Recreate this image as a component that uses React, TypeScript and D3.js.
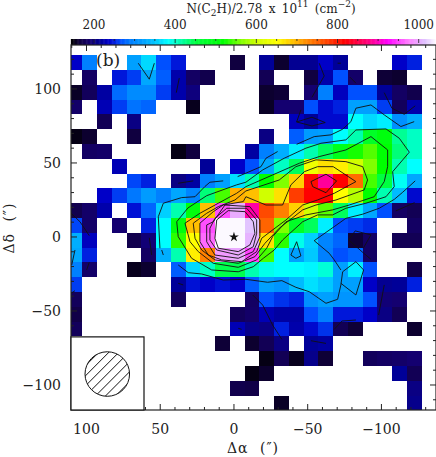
import { useEffect, useRef } from 'react';
import * as d3 from 'd3';

const _ = null;

// column density per map cell, top row first
const r00 = [235, 290, _, _, 320, 360, 265, 246, _, _, _, 165, _, 215, 159, 211, 211, 235, 215, _, _, _, 235, 250];
const r01 = [_, 183, _, 246, 259, 325, 272, 223, 183, 172, _, _, _, 176, _, _, 165, 223, 265, 186, _, 162, 159, _];
const r02 = [156, 179, 219, 279, 300, 300, 259, 223, 198, _, _, _, _, 159, 162, _, 190, 290, 231, 265, 265, 215, 183, 172];
const r03 = [186, _, 227, 259, 283, 276, _, _, 153, _, _, _, _, 156, 190, 190, 265, 239, 250, 320, 320, 259, 179, 223];
const r04 = [_, _, 176, _, 202, _, _, _, _, _, _, _, _, _, _, 231, 215, 239, 239, 382, 360, 373, 305, 330];
const r05 = [150, 159, _, _, 165, _, _, _, _, _, _, _, _, 202, _, 272, 315, 320, 382, 410, 477, 504, 420, 403];
const r06 = [_, 183, 186, _, _, _, _, 150, 165, _, _, _, 219, 290, 330, 373, 410, 440, 490, 525, 545, 515, 430, 403];
const r07 = [_, _, _, 227, _, _, _, _, _, 215, _, 235, 265, 325, 403, 440, 633, 670, 660, 600, 560, 518, 410, 382];
const r08 = [_, _, _, _, 262, 250, _, 202, 219, 290, 320, 364, 410, 518, 560, 680, 809, 885, 816, 744, 541, 450, 386, 325];
const r09 = [_, _, 235, 259, 286, 315, 290, 325, 295, 430, 541, 700, 690, 600, 670, 777, 816, 816, 650, 587, 518, 410, 340, 239];
const r10 = [172, 186, 223, _, 243, 276, 355, 410, 504, 690, 955, 1000, 890, 768, 730, 680, 600, 546, 440, 373, 325, 265, 183, 176];
const r11 = [262, 186, _, 190, _, 250, 382, 504, 690, 955, 1040, 1040, 1015, 750, 560, 477, 440, 373, 265, 259, 253, _, _, 183];
const r12 = [330, 231, _, _, 172, 194, 382, 532, 650, 965, 1040, 1040, 1005, 670, 532, 389, 355, 295, 276, 162, 183, _, 176, 176];
const r13 = [325, 250, _, _, _, 183, 330, 410, 660, 730, 990, 1000, 950, 541, 382, 320, 350, 290, 265, 276, 183, _, _, _];
const r14 = [290, 186, _, _, 153, 159, _, 272, 360, 403, 445, 445, 410, 389, 382, 382, 377, 396, 320, 373, 265, _, _, 169];
const r15 = [259, _, _, _, _, _, _, 215, 243, 235, 243, 235, 272, 320, 310, 340, 364, 350, 320, 320, 235, 211, 215, 250];
const r16 = [179, _, _, _, _, _, _, 179, _, _, _, _, 183, 265, 256, 250, 305, 320, 310, 310, 265, 194, 190, _];
const r17 = [169, _, _, _, _, _, _, _, _, _, _, 179, 186, 227, 219, 219, 265, 290, 246, 246, 235, 202, 176, _];
const r18 = [179, _, _, _, _, _, _, _, _, _, _, 227, 207, 202, 250, 223, 239, 256, 176, 162, _, _, _, 159];
const r19 = [_, _, _, _, _, _, _, _, _, _, 162, _, 159, 176, 202, _, 215, 219, _, _, _, _, _, _];
const r20 = [_, _, _, _, _, _, _, _, _, _, _, _, _, 150, 176, 153, 207, 162, _, _, 179, 183, 186, 190];
const r21 = [_, _, _, _, _, _, _, _, _, _, _, _, 150, 159, _, _, _, _, _, _, _, _, 215, 176];
const r22 = [_, _, _, _, _, _, _, _, _, _, _, 172, 169, _, _, _, _, _, _, _, _, _, _, 202];
const r23 = [_, _, _, _, _, _, _, _, _, _, _, _, _, _, 156, _, _, _, _, _, _, _, _, 207];
const rows = [r00, r01, r02, r03, r04, r05, r06, r07, r08, r09, r10, r11, r12, r13, r14, r15, r16, r17, r18, r19, r20, r21, r22, r23];

// offsets of the first cell centre, arcsec
const firstAlpha = 107.75;
const firstDelta = 117.8;
const cellStep = 10;

// colour table as shown on the bar
const colorValues = [143, 165, 190, 215, 235, 250, 265, 290, 320, 355, 382, 410, 450, 518, 560, 600, 650, 690, 730, 775, 816, 875, 924, 974, 1013, 1043];
const colorStops = ['#000000', '#100040', '#140070', '#000098', '#0000c8', '#0020e0', '#0050ff', '#0080ff', '#00a0ff', '#00d0ff', '#00ffff', '#00ffb0', '#00ff40', '#00ff00', '#80ff00', '#d0ff00', '#ffff00', '#ffc000', '#ff8000', '#ff4000', '#ff0000', '#ff0080', '#ff00ff', '#ff80ff', '#e0c0ff', '#ffffff'];

const barTicks = [200, 400, 600, 800, 1000];
const xTicks = [100, 50, 0, -50, -100];
const yTicks = [100, 50, 0, -50, -100];

// contours, [delta alpha, delta delta] in arcsec
const ringA = [[38.8, 10.3], [37.8, 0.2], [28.7, -14.4], [15.1, -22.3], [-2.9, -23.5], [-13.1, -20.1], [-19.9, -14.4], [-27.3, -8.8], [-33, -2], [-46.6, 10.3], [-56.7, 14.9], [-66.9, 14.9], [-75.9, 19.4], [-89.5, 22.8], [-103.1, 27.2], [-108.7, 34], [-107.6, 44.1], [-118.9, 57.3], [-112.1, 66.7], [-103.1, 73], [-82.7, 72.3], [-75.9, 65.6], [-59, 63.3], [-48.8, 60], [-34.1, 53.2], [-19.5, 45.3], [-8.1, 37], [-1.8, 35.2], [18.5, 27.9], [31.2, 19.6], [38.8, 10.3]];
const ringB = [[33.2, 9.3], [29.8, -3.2], [24.2, -9.9], [14, -17.8], [-2.9, -20.5], [-15.4, -15.5], [-22.2, -7.6], [-26.2, 0.2], [-35.3, 10.3], [-48.8, 14.9], [-66.9, 18.3], [-78.2, 21.6], [-95.1, 27.2], [-101.9, 37.4], [-104.2, 47.5], [-104.2, 58.8], [-92.9, 67.8], [-75.9, 58.8], [-57.8, 54.3], [-44.3, 49.8], [-26.2, 41.9], [-8.1, 34], [-1.8, 29.5], [10.6, 22.8], [23.1, 16], [33.2, 9.3]];
const ringC = [[27.6, 9.3], [26.4, -0.9], [21.9, -8.8], [12.9, -15.5], [-2.9, -17.8], [-14.2, -13.3], [-21, -4.3], [-30.7, 5.9], [-46.6, 18.3], [-55.6, 21.6], [-69.2, 25], [-88.3, 31.8], [-90.6, 38.5], [-87.3, 47.5], [-75.9, 50.9], [-55.6, 52.1], [-42, 47.5], [-30.7, 38.5], [-8.1, 31.1], [-0.7, 25], [10.6, 20.5], [18.5, 16], [27.6, 9.3]];
const ringD = [[23.1, 9.3], [23.1, -3.2], [17.4, -12.2], [8.3, -15.5], [-5.2, -16.7], [-15.4, -9.9], [-18.8, -0.9], [-24.4, 3.4], [-35.3, 11.5], [-46.6, 21.6], [-56.7, 25], [-68, 29.5], [-82.7, 37.4], [-67.3, 47.5], [-56.7, 47.5], [-47.7, 44.1], [-38.6, 35.2], [-33, 21.6], [-21.7, 21.6], [-8.1, 27.2], [-6.3, 23.9], [7.3, 21.6], [14, 17.1], [23.1, 9.3]];
const ringE = [[14, 10.3], [18.5, 8.1], [18.5, -3.2], [12.9, -12.2], [-2.9, -14.4], [-13.1, -9.9], [-17.6, 0.2], [-17.6, 11.5], [-10.8, 20.5], [6.1, 21.6], [14, 10.3]];
const ringF = [[12.9, 12.6], [16.3, 5.9], [16.3, -2], [11.7, -8.8], [-2.9, -12.2], [-13.1, -6.6], [-15.4, 2.5], [-15.4, 11.5], [-8.6, 19.4], [4.9, 19.4], [12.9, 12.6]];
const ringG = [[11.7, 11.5], [12.9, -0.9], [10.6, -7.6], [-2.9, -9.9], [-10.8, -5.4], [-14.2, 2.5], [-13.1, 10.3], [-7.5, 17.1], [3.9, 17.8], [11.7, 11.5]];
const peakLoop = [[-52.2, 37.4], [-62.4, 42.4], [-69.6, 37.9], [-62.4, 29.9], [-53.4, 34], [-52.2, 37.4]];
const outerLeft = [[50.2, -7.6], [51.3, 13.7], [47.9, 22.8], [35.5, 26.6], [26.4, 27.2], [19.7, 34.1], [16.3, 37], [7.3, 37.9]];
const outerUpper1 = [[-2.5, 40.8], [-8.1, 43.1], [-18.3, 47.5], [-21.7, 53.2], [-29.6, 57.7]];
const outerUpper2 = [[-42.5, 62.6], [-54.4, 67.8], [-65.8, 69], [-73.7, 72.8], [-79.3, 77.9], [-82.7, 87], [-92.9, 89.2], [-101.9, 82.5], [-113.2, 74.6], [-122.2, 77.9]];
const outerLower = [[37.8, -18.9], [31, -24.1], [21.9, -25], [7.3, -29.1], [-8.1, -28.6], [-22.8, -30.6], [-32.5, -29.5], [-42, -34], [-51.1, -37], [-62.4, -44.8], [-70.3, -42.1], [-72.5, -32.4], [-73.7, -23.5], [-82.7, -16.7], [-87.9, -22.3], [-82.7, -39.2], [-72.5, -31.3]];
const lobeUnder = [[-72.5, -22.3], [-68, -15.5], [-64.6, -11], [-54.4, -2.5], [-68, 7], [-75.9, 12.6], [-87.3, 15.4], [-98.5, 19.4], [-108.7, 25.4], [-114.4, 30.2], [-122.9, 37.9]];
const darkLoop = [[-87.7, -7.6], [-92.9, 1.4], [-82.2, 4.1], [-77.8, -2], [-88, -11], [-92.9, -15.1]];
const smallLoop = [[-42.5, -3.2], [-38.6, -12.2], [-42, -14.4], [-45.4, -12.8], [-42.5, -3.2]];
const topLoop = [[-45.4, 85.9], [-42.5, 77.7], [-52.9, 75], [-61.9, 77.3], [-52.9, 80.9], [-42.5, 77.7]];
const stubs = [
  [[64.9, 117.4], [57.4, 106.6], [54, 117.4]],
  [[37.1, 107.3], [39.1, 97.5]],
  [[-70.3, 117.4], [-72.5, 117.4]],
  [[-57.8, 117.4], [-61.2, 108.8], [-52.9, 94.4]],
  [[-78.6, 108], [-82.7, 103.9]],
  [[-101.9, 97.5], [-107.1, 87], [-115.5, 82.9], [-122.9, 88.6]],
  [[37.8, 36.3], [27.6, 37.9]],
  [[110.5, 16], [104.4, 10.3], [98.1, 0.9]],
  [[107.8, -8.8], [110, -18.9]],
  [[98.1, -17.1], [99.9, -22.3]],
  [[107.8, -36.3], [110.5, -38]],
  [[37.8, -31.3], [34.4, -32.4]],
  [[-2.9, -61.7], [-5.2, -62.4]],
  [[57.4, -0.5], [55.8, -12.2]],
  [[49, -8.8], [47.9, -12.2]],
  [[-12.7, -39.2], [-19.5, -46], [-26.2, -59.5], [-32.5, -69.2]],
  [[-52.2, -70.1], [-62.4, -71.9]],
  [[-68, -62.4], [-73.2, -56.8], [-82.7, -56.1]],
  [[-101.9, -32.4], [-98.1, -52.7]],
  [[-109.7, 17.6], [-122.5, 23.2]],
];
const contours = [ringA, ringB, ringC, ringD, ringE, ringF, ringG, peakLoop, outerLeft, outerUpper1, outerUpper2, outerLower, lobeUnder, darkLoop, smallLoop, topLoop, ...stubs];

// beam, arcsec
const beamAlpha = 85.9;
const beamDelta = -92.6;
const beamRadius = 15.1;
const beamBoxAlpha = 61;
const beamBoxDelta = -67.5;

const serif = "'DejaVu Serif', serif";

export default function App() {
  const ref = useRef(null);

  useEffect(() => {
    const x = d3.scaleLinear().domain([110.5, -137]).range([71, 436]);
    const y = d3.scaleLinear().domain([-116.9, 129.7]).range([410, 45]);
    const barX = d3.scaleLinear().domain([200, 1000]).range([94, 418.7]);
    const color = d3.scaleLinear().domain(colorValues).range(colorStops).clamp(true);

    const svg = d3.select(ref.current);
    svg.selectAll('*').remove();

    svg.append('clipPath').attr('id', 'frame').append('rect')
      .attr('x', 71).attr('y', 45).attr('width', 365).attr('height', 365);

    const map = svg.append('g').attr('clip-path', 'url(#frame)');
    const cells = rows.flatMap((row, r) => row.map((v, c) => ({ v, c, r }))).filter(d => d.v !== null);
    map.selectAll('rect')
      .data(cells)
      .join('rect')
      .attr('x', d => x(firstAlpha - d.c * cellStep + cellStep / 2))
      .attr('y', d => y(firstDelta - d.r * cellStep + cellStep / 2))
      .attr('width', d => x(firstAlpha - d.c * cellStep - cellStep / 2) - x(firstAlpha - d.c * cellStep + cellStep / 2))
      .attr('height', d => y(firstDelta - d.r * cellStep - cellStep / 2) - y(firstDelta - d.r * cellStep + cellStep / 2))
      .attr('shape-rendering', 'crispEdges')
      .attr('fill', d => color(d.v));

    const line = d3.line().x(d => x(d[0])).y(d => y(d[1]));
    map.selectAll('path.contour')
      .data(contours)
      .join('path')
      .attr('class', 'contour')
      .attr('d', line)
      .attr('fill', 'none')
      .attr('stroke', '#111')
      .attr('stroke-width', 0.9);

    // colour bar
    const bar = svg.append('g');
    bar.selectAll('rect')
      .data(d3.range(143, 1043, 2))
      .join('rect')
      .attr('x', d => barX(d))
      .attr('y', 39)
      .attr('width', barX(2) - barX(0) + 0.5)
      .attr('height', 6)
      .attr('fill', d => color(d));
    bar.selectAll('line')
      .data(d3.range(150, 1050, 50))
      .join('line')
      .attr('x1', d => barX(d))
      .attr('x2', d => barX(d))
      .attr('y1', 39)
      .attr('y2', d => (d % 200 === 0 ? 43 : 41))
      .attr('stroke', '#222')
      .attr('stroke-width', 0.8);
    bar.selectAll('text')
      .data(barTicks)
      .join('text')
      .attr('x', d => barX(d))
      .attr('y', 29)
      .attr('text-anchor', 'middle')
      .attr('font-family', serif)
      .attr('font-size', 12)
      .attr('fill', '#222')
      .text(d => d);

    const title = svg.append('text')
      .attr('x', 271).attr('y', 13)
      .attr('text-anchor', 'middle')
      .attr('font-family', serif)
      .attr('font-size', 12)
      .attr('word-spacing', 2.5)
      .attr('fill', '#222');
    title.append('tspan').text('N(C');
    title.append('tspan').attr('dy', 3).attr('font-size', 9).text('2');
    title.append('tspan').attr('dy', -3).text('H)/2.78 x 10');
    title.append('tspan').attr('dy', -6).attr('font-size', 9).text('11');
    title.append('tspan').attr('dy', 6).text(' (cm');
    title.append('tspan').attr('dy', -6).attr('font-size', 9).text('\u22122');
    title.append('tspan').attr('dy', 6).text(')');

    // frame and ticks
    const axes = svg.append('g').attr('stroke', '#222').attr('stroke-width', 1).attr('fill', 'none');
    axes.append('rect').attr('x', 71).attr('y', 45).attr('width', 365).attr('height', 365).attr('stroke-width', 1.2);
    d3.range(-130, 111, 10).forEach(t => {
      const len = t % 50 === 0 ? 6 : 3;
      axes.append('line').attr('x1', x(t)).attr('x2', x(t)).attr('y1', 410).attr('y2', 410 - len);
      axes.append('line').attr('x1', x(t)).attr('x2', x(t)).attr('y1', 45).attr('y2', 45 + len);
    });
    d3.range(-110, 130, 10).forEach(t => {
      const len = t % 50 === 0 ? 6 : 3;
      axes.append('line').attr('x1', 71).attr('x2', 71 + len).attr('y1', y(t)).attr('y2', y(t));
      axes.append('line').attr('x1', 436).attr('x2', 436 - len).attr('y1', y(t)).attr('y2', y(t));
    });

    const labels = svg.append('g').attr('font-family', serif).attr('font-size', 14).attr('fill', '#222');
    labels.selectAll('text.xt')
      .data(xTicks)
      .join('text')
      .attr('class', 'xt')
      .attr('x', d => x(d))
      .attr('y', 434)
      .attr('text-anchor', 'middle')
      .text(d => String(d).replace('-', '\u2212'));
    labels.selectAll('text.yt')
      .data(yTicks)
      .join('text')
      .attr('class', 'yt')
      .attr('x', 61)
      .attr('y', d => y(d) + 5)
      .attr('text-anchor', 'end')
      .text(d => String(d).replace('-', '\u2212'));
    labels.append('text')
      .attr('x', 253).attr('y', 453).attr('text-anchor', 'middle')
      .attr('letter-spacing', 1).attr('word-spacing', 6)
      .text('\u0394\u03b1 (\u2033)');
    labels.append('text')
      .attr('transform', 'translate(14,228) rotate(-90)')
      .attr('text-anchor', 'middle')
      .attr('letter-spacing', 1).attr('word-spacing', 6)
      .text('\u0394\u03b4 (\u2033)');
    labels.append('text').attr('x', 96).attr('y', 66).attr('font-size', 17).text('(b)');

    // source position
    svg.append('path')
      .attr('d', d3.symbol(d3.symbolStar, 30)())
      .attr('transform', `translate(${x(0)},${y(0)})`)
      .attr('fill', '#111');

    // beam inset
    const boxX = x(beamBoxAlpha);
    const boxY = y(beamBoxDelta);
    svg.append('rect')
      .attr('x', 71).attr('y', boxY)
      .attr('width', boxX - 71).attr('height', 410 - boxY)
      .attr('fill', '#fff').attr('stroke', '#111').attr('stroke-width', 1.2);
    const rx = x(beamAlpha - beamRadius) - x(beamAlpha);
    svg.append('clipPath').attr('id', 'beam').append('circle')
      .attr('cx', x(beamAlpha)).attr('cy', y(beamDelta)).attr('r', rx);
    svg.append('g').attr('clip-path', 'url(#beam)')
      .selectAll('line')
      .data(d3.range(-17, 17.1, 3.4))
      .join('line')
      .attr('x1', o => x(beamAlpha + 20 + o))
      .attr('y1', o => y(beamDelta - 20 + o))
      .attr('x2', o => x(beamAlpha - 20 + o))
      .attr('y2', o => y(beamDelta + 20 + o))
      .attr('stroke', '#111')
      .attr('stroke-width', 1);
    svg.append('circle')
      .attr('cx', x(beamAlpha)).attr('cy', y(beamDelta)).attr('r', rx)
      .attr('fill', 'none').attr('stroke', '#111').attr('stroke-width', 1);
  }, []);

  return <svg ref={ref} width={436} height={457} style={{ position: 'absolute', left: 0, top: 0, background: '#fff' }} />;
}
